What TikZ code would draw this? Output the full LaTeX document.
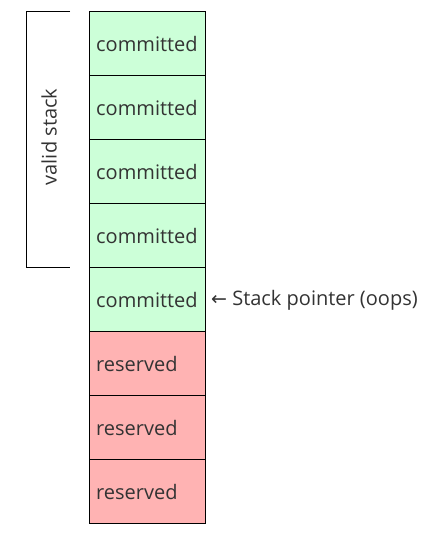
\documentclass[tikz,border=0pt]{standalone}
\usepackage{fontspec}
\setmainfont{Open Sans}
\newfontfamily\arrowfont{DejaVu Sans}
\definecolor{txt}{HTML}{333333}
\definecolor{commitfill}{HTML}{CCFFD8}
\definecolor{reservefill}{HTML}{FFB3B3}
\begin{document}
\begin{tikzpicture}[x=1pt,y=-1pt,
  cell/.style={draw=black, line width=1pt, minimum width=116pt, minimum height=64pt, inner sep=0pt, outer sep=0pt, anchor=north west},
  celltext/.style={font=\fontsize{20}{24}\selectfont, text=txt, anchor=west, inner sep=0pt},
  bracket/.style={draw=black, line width=1pt}]
\useasboundingbox (0,0) rectangle (440,533);
\foreach \i/\kind/\lab in {0/commitfill/committed,1/commitfill/committed,2/commitfill/committed,3/commitfill/committed,4/commitfill/committed,5/reservefill/reserved,6/reservefill/reserved,7/reservefill/reserved}{
  \node[cell, fill=\kind] (c\i) at (89,{11+64*\i}) {};
  \node[celltext] (t\i) at (96,{44+64*\i}) {\lab};
}
\coordinate (bt) at (70,11);
\coordinate (bb) at (70,267);
\draw[bracket] (bt) -- (26,11) -- (26,267) -- (bb);
\node[celltext, anchor=center, rotate=90] (vs) at (49,137) {valid stack};
\node[celltext] (sp) at (211,300) {{\arrowfont\fontsize{19}{24}\selectfont ←} Stack pointer (oops)};
\end{tikzpicture}
\end{document}
